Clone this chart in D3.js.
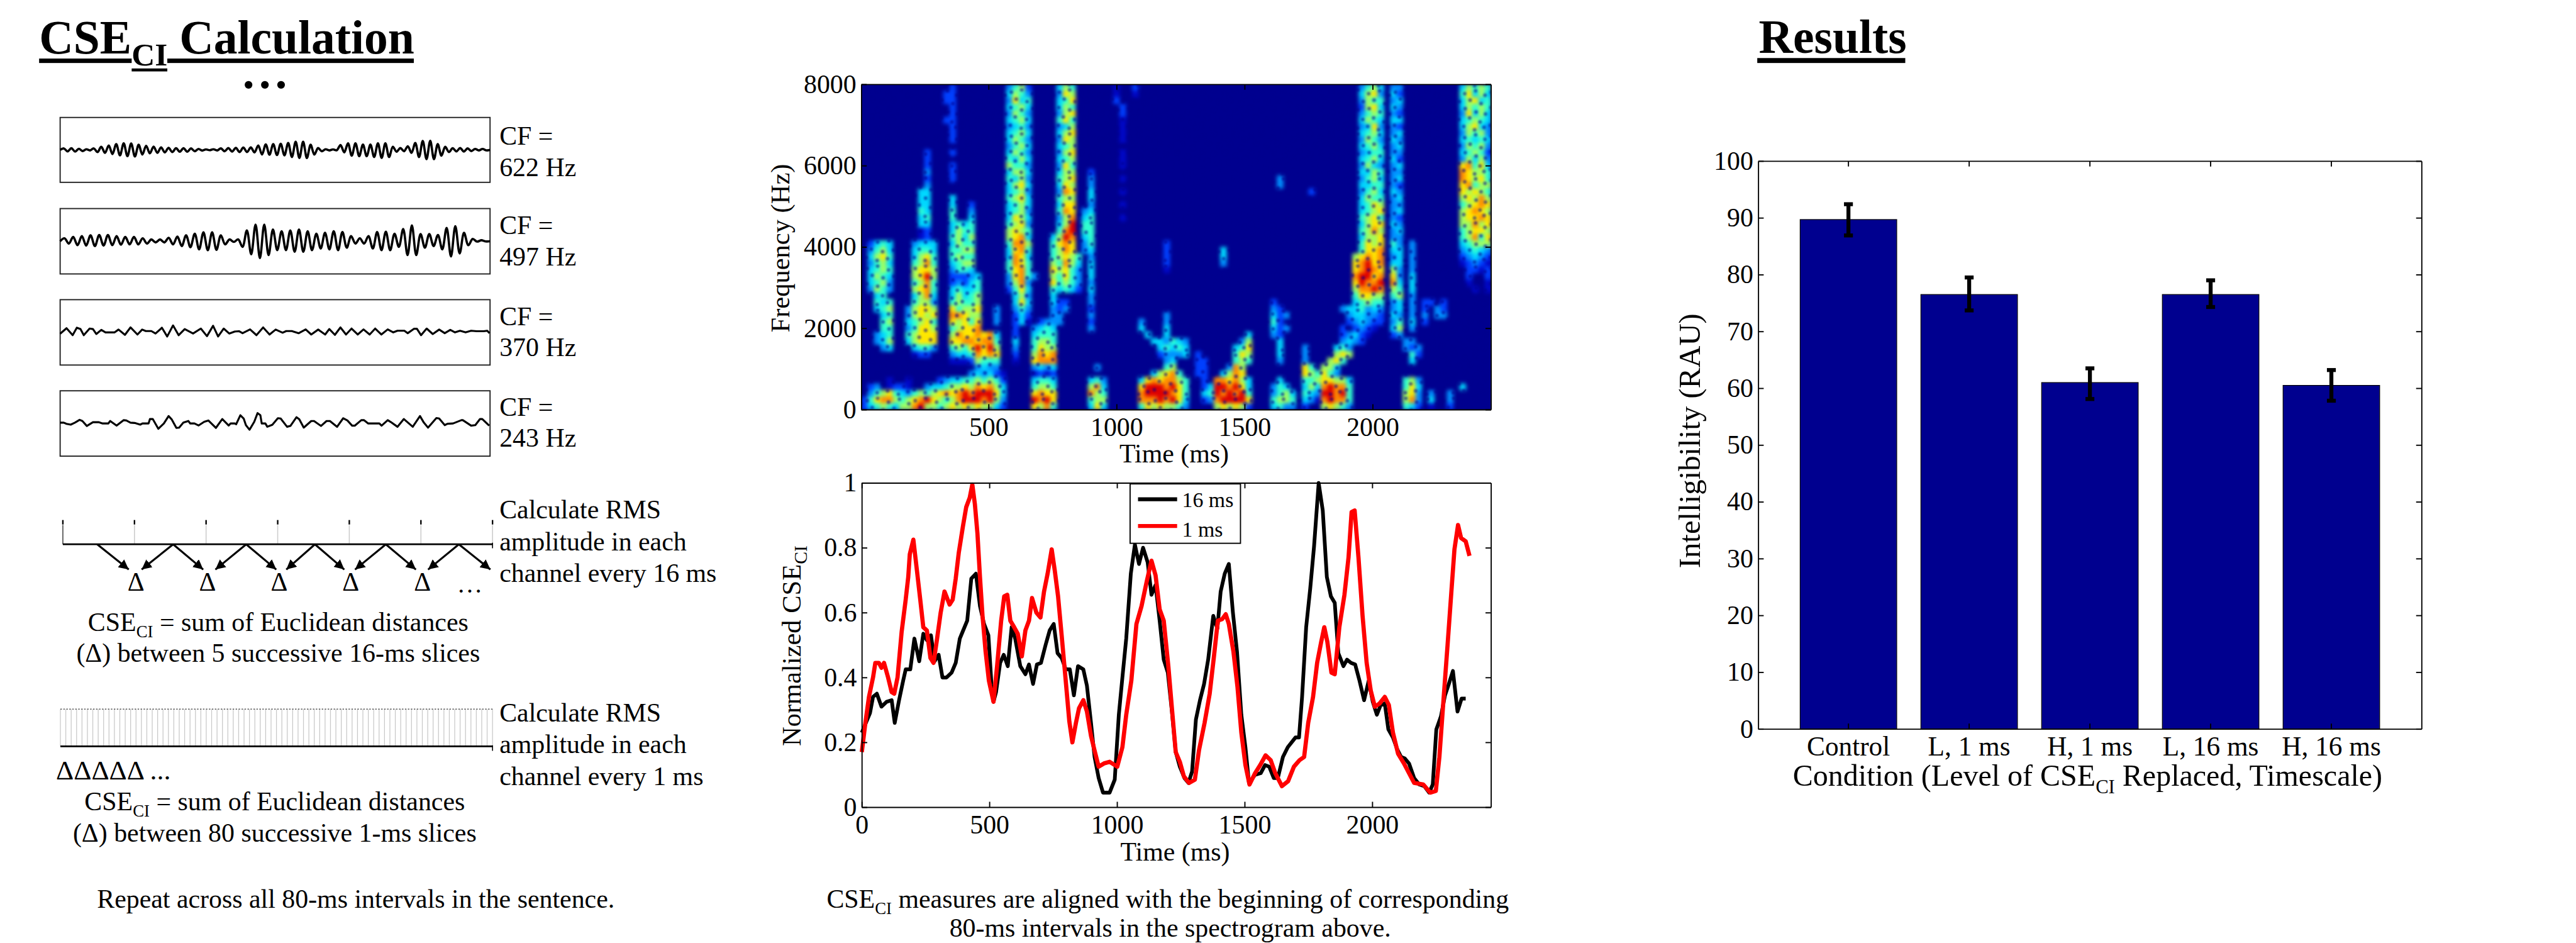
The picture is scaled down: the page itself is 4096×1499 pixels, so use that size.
<!DOCTYPE html>
<html><head><meta charset="utf-8">
<script src="https://cdn.jsdelivr.net/npm/d3@7/dist/d3.min.js"></script>
<style>html,body{margin:0;padding:0;background:#fff;overflow:hidden}svg{display:block}text{font-family:"Liberation Serif",serif;fill:#000}</style>
</head><body><svg id="c"></svg>
<script>
// ---------- data ----------
const barCategories=["Control","L, 1 ms","H, 1 ms","L, 16 ms","H, 16 ms"];
const barValues=[89.7,76.5,61.0,76.5,60.5];
const barErrHigh=[92.4,79.5,63.5,79.0,63.2];
const barErrLow=[86.9,73.7,58.1,74.3,57.8];
const barTicks=[0,10,20,30,40,50,60,70,80,90,100];

const timeTicks=[500,1000,1500,2000];
const freqTicks=[0,2000,4000,6000,8000];
const cseTimeTicks=[0,500,1000,1500,2000];
const cseTicks=[0,0.2,0.4,0.6,0.8,1];

const t16=[0,32,44,59,77,97,117,129,146,162,172,190,206,225,241,255,271,285,301,316,332,352,368,384,413,429,447,463,479,496,508,516,526,542,556,572,587,601,621,641,655,671,686,702,720,736,752,767,783,799,815,831,847,868,882,898,912,928,945,971,991,1007,1021,1036,1054,1070,1086,1102,1120,1135,1151,1167,1183,1199,1215,1230,1246,1264,1280,1294,1309,1325,1341,1357,1377,1393,1406,1422,1438,1454,1470,1487,1503,1517,1541,1563,1580,1596,1614,1630,1650,1669,1699,1713,1725,1741,1757,1772,1790,1806,1822,1838,1853,1867,1887,1901,1917,1933,1950,1968,1986,2002,2018,2033,2049,2063,2081,2097,2113,2128,2144,2164,2184,2204,2223,2237,2251,2269,2285,2300,2316,2334,2350,2366];
const cse16=[.23,.29,.34,.35,.31,.325,.33,.26,.33,.39,.425,.425,.52,.45,.535,.515,.53,.45,.47,.40,.40,.415,.445,.52,.575,.705,.72,.62,.565,.53,.38,.325,.355,.445,.47,.435,.555,.52,.435,.41,.44,.38,.44,.445,.50,.545,.565,.475,.46,.425,.425,.345,.435,.425,.375,.26,.155,.09,.045,.045,.085,.285,.40,.52,.72,.81,.75,.80,.755,.655,.685,.575,.455,.415,.295,.17,.125,.09,.075,.11,.27,.33,.38,.455,.59,.55,.665,.72,.75,.60,.48,.285,.185,.075,.10,.105,.13,.125,.09,.09,.155,.185,.215,.215,.34,.555,.675,.805,1.0,.915,.71,.65,.63,.475,.435,.455,.445,.44,.39,.33,.39,.325,.285,.315,.32,.24,.215,.18,.155,.15,.135,.09,.07,.065,.045,.07,.24,.28,.345,.38,.42,.295,.335,.335];
const t1=[0,14,28,44,53,67,77,87,103,117,127,140,156,172,182,188,202,216,229,241,255,269,281,295,309,324,344,356,368,380,396,409,423,433,443,453,463,473,485,498,516,530,546,558,570,582,597,611,627,641,655,667,684,700,714,728,744,756,769,783,799,813,825,839,851,868,882,898,912,928,949,971,1001,1021,1036,1056,1076,1096,1116,1135,1151,1167,1183,1201,1215,1230,1246,1262,1282,1305,1321,1343,1363,1379,1395,1412,1426,1438,1456,1472,1487,1503,1519,1541,1561,1582,1602,1620,1646,1670,1693,1715,1733,1749,1768,1784,1800,1812,1824,1840,1853,1871,1891,1907,1919,1931,1946,1962,1978,1994,2010,2029,2049,2065,2081,2101,2124,2144,2164,2200,2227,2249,2263,2279,2295,2310,2322,2336,2348,2366,2381];
const cse1=[.17,.26,.34,.40,.445,.445,.43,.445,.40,.355,.35,.40,.54,.64,.71,.78,.825,.73,.64,.555,.545,.46,.445,.52,.60,.665,.625,.64,.705,.785,.865,.925,.955,.995,.935,.845,.71,.59,.48,.39,.325,.435,.575,.65,.655,.575,.555,.535,.465,.545,.575,.645,.60,.585,.665,.72,.795,.73,.65,.53,.39,.265,.20,.26,.305,.33,.295,.22,.175,.125,.135,.14,.125,.185,.285,.39,.565,.62,.695,.76,.715,.61,.575,.435,.305,.17,.14,.095,.075,.085,.175,.26,.35,.46,.575,.58,.595,.565,.48,.37,.23,.13,.07,.105,.13,.16,.145,.105,.065,.08,.125,.145,.155,.26,.34,.445,.51,.555,.51,.415,.41,.555,.655,.77,.91,.915,.77,.59,.445,.36,.31,.32,.34,.315,.23,.165,.135,.105,.075,.07,.045,.05,.155,.33,.50,.665,.795,.87,.83,.82,.775];

const wave622=[0,9,-9,10,-10,7,-7,4,-3,9,-13,19,-18,27,-25,35,-33,40,-38,39,-40,31,-28,25,-21,20,-18,15,-15,12,-13,10,-11,10,-11,9,-8,6,-4,3,-2,4,-3,9,-8,11,-10,12,-13,14,-13,15,-15,27,-28,33,-29,35,-31,37,-33,42,-43,49,-49,49,-49,31,-28,11,-8,4,-3,3,-2,29,-15,40,-35,40,-38,32,-38,32,-43,40,-48,40,-43,19,-11,11,-8,22,-18,42,-43,54,-56,55,-56,35,-35,19,-13,10,-9,11,-10,9,-7,6,-3,6,-3,0];
const wave497=[0,18,-14,26,-24,31,-26,36,-29,38,-26,38,-24,31,-21,26,-19,26,-19,18,-14,11,-7,11,-7,21,-19,28,-29,36,-36,46,-49,54,-54,54,-52,36,-19,11,-4,11,-34,66,-79,101,-102,101,-84,71,-54,61,-54,66,-64,71,-64,61,-54,46,-44,51,-49,61,-54,56,-39,31,-14,18,-14,31,-44,56,-54,58,-54,46,-34,74,-84,96,-84,44,-39,44,-29,38,-49,81,-92,91,-74,51,-24,14,-2,6,-1,0];
const wave370t=[12,35,57,72,85,97,118,130,142,160,175,208,222,245,265,290,307,320,340,355,378,397,418,438,460,490,518,540,562,580,600,620,640,655,668,695,718,742,765,787,812,825,845,870,895,915,940,965,980,1000,1020,1040,1060,1082,1103,1125,1145,1167,1190,1210,1225,1250,1262,1285,1295,1310,1330,1352,1375,1395,1415,1432,1450,1470,1490,1510,1535,1548,1556];
const wave370=[-8,25,-17,28,20,-17,23,20,-10,15,0,0,17,-15,30,-13,17,8,8,-7,28,-25,42,-17,20,-7,23,-23,40,-25,23,-7,5,7,-5,18,-17,30,-13,17,-2,8,8,-5,18,-13,17,-13,20,-15,30,-13,23,-13,18,-13,23,-13,18,0,10,10,-5,22,22,-17,23,-10,17,-5,15,0,10,0,10,7,7,10,-5];
const wave243t=[12,25,35,50,65,82,92,108,130,150,165,185,192,215,240,250,265,280,300,308,330,335,345,365,385,402,413,430,440,455,473,480,495,510,530,545,572,595,618,625,640,645,660,672,680,693,710,722,732,737,750,757,775,795,805,828,840,862,872,888,915,925,950,970,982,1008,1030,1045,1062,1072,1095,1105,1120,1160,1168,1190,1200,1225,1248,1280,1306,1320,1335,1365,1375,1395,1405,1425,1455,1460,1490,1505,1522,1530,1555];
const wave243=[5,5,-2,-7,5,22,15,-15,8,8,0,0,15,-13,20,18,5,3,-7,0,0,27,27,-32,0,45,25,-27,-25,5,15,0,0,-12,10,18,-27,27,-12,0,0,-5,50,30,-10,-38,10,63,50,0,0,-20,-8,32,30,-20,-15,38,25,-25,15,15,-15,15,15,-20,32,18,-13,-13,20,20,0,0,-13,20,10,-20,27,-20,45,5,-25,33,30,-10,-2,0,20,20,-13,-10,27,27,-13];
const centreFreqs=["622 Hz","497 Hz","370 Hz","243 Hz"];

// spectrogram cells, one digit per cell (0 = background .. 9 = peak); top row first, grouped in tens for reading
const spectrogram=[
"0000000000 0000200000 0003562000 0465000000 1002000000 0000000000 0000000000 0000000003 5640330000 0000046565",
"0000000000 0002200000 0004653000 0376000000 1001000000 0000000000 0000000000 0000000004 6730420000 0000057464",
"0000000000 0002200000 0003745000 0457000000 2000000000 0000000000 0000000000 0000000003 6550340000 0000046745",
"0000000000 0000200000 0004564000 0465000000 0200000000 0000000000 0000000000 0000000002 6740430000 0000046565",
"0000000000 0000200000 0003653000 0367000000 0200000000 0000000000 0000000000 0000000003 5650320000 0000037464",
"0000000000 0002200000 0004564000 0575000000 0100000000 0000000000 0000000000 0000000004 6540440000 0000045654",
"0000000000 0000200000 0003453000 0346000000 0100000000 0000000000 0000000000 0000000003 4730320000 0000046743",
"0000000000 0000200000 0004564000 0467000000 0100000000 0000000000 0000000000 0000000004 5640340000 0000036563",
"0000000000 0000200000 0004653000 0376000000 0100000000 0000000000 0000000000 0000000003 6530430000 0000045454",
"0000000000 0000000000 0003564000 0456000000 0000000000 0000000000 0000000000 0000000004 5640340000 0000036563",
"0000000000 2000200000 0004653000 0367000000 0100000000 0000000000 0000000000 0000000003 4550330000 0000045652",
"0000000000 2000000000 0005464000 0456000000 0100000000 0000000000 0000000000 0000000004 5640420000 0000036463",
"0000000000 2000200000 0006553000 0375000000 0100000000 0000000000 0000000000 0000000003 6430340000 0000078574",
"0000000000 3000200000 0004664000 0466002000 0000000000 0000000000 0000000000 0000000004 4650330000 0000087665",
"0000000000 2000200000 0005463000 0567003000 0100000000 0000000000 0000003000 0000000003 5640340000 0000087675",
"0000000000 3000000000 0004674000 0476003000 0000000000 0000000000 0000003000 0000000004 4550320000 0000078566",
"0000000004 4000000000 0004563000 0387004000 0100000000 0000000000 0000000000 0200000003 5640430000 0000076765",
"0000000004 4000400000 0005674000 0566004000 0000000000 0000000000 0000000000 0000000004 6550340000 0000067686",
"0000000004 4000400200 0004564000 0477003000 0100000000 0000000000 0000000000 0000000004 5760330000 0000056787",
"0000000005 4000500300 0004563000 0587034000 0000000000 0000000000 0000000000 0000000004 5670340000 0000067876",
"0000000004 5000500400 0004764000 0368045000 0100000000 0000000000 0000000000 0000000005 6750320000 0000067787",
"0000000004 4000454500 0005673000 0469055000 0000000000 0000000000 0000000000 0000000004 6770430000 0000066867",
"0000000001 2000465500 0006765000 0589055000 0000000000 0000000000 0000000000 0000000005 6860340000 0000056776",
"0000000001 2000564600 0006784000 4698045000 0000000000 0000000000 0000000000 0000000004 6670330000 0000056857",
"0245400034 4400465500 0005886000 5787035000 0000000020 0000000000 0000000000 0000000005 7670530300 0000045666",
"0356400045 5400556600 0004785000 5687034000 0000000020 0000000400 0000000000 0000000005 7780440300 0000034543",
"0467500046 7500565500 0004874000 5676503000 0000000020 0000000400 0000000000 0000000067 8780340300 0000023432",
"0356400056 8500456600 0005875000 6586404000 0000000020 0000000300 0000000000 0000000078 9780440300 0000012321",
"0456500067 7600355400 0005785000 7675304000 0000000010 0000000000 0000000000 0000000078 9870630300 0000002212",
"0465400067 9600222340 0003785300 6575304000 0000000000 0000000000 0000000000 0000000089 9780730400 0000002002",
"0456300056 8500232450 0003683000 7565303000 0000000000 0000000000 0000000000 0000000079 8890840400 0000001001",
"0365300067 8500454450 0002574000 5454204000 0000000000 0000000000 0000000000 0000000068 8980650400 0000000101",
"0045000046 8400464560 0000463000 4000003000 0000000000 0000000000 0000000000 0000000057 7660560300 0000000000",
"0054500056 6300565560 0000474000 4220003000 0000000000 0000000000 0000020000 0000000045 6550340302 2020000000",
"0045600367 7600756670 0300353000 3230002000 0000000000 0000000000 0000032000 0000003445 3430340302 0320000000",
"0004500367 6700887660 0300242000 3300003000 0000000030 0000000000 0000042300 0000000344 3320430303 0330000000",
"0005600456 7500767570 0300241023 3300002000 0000300030 0000000000 0000052000 0000000234 3220350402 0000000000",
"0005500357 7600567780 0000200345 4000003000 0000400040 0000000000 0000042300 0000002023 2100460300 0000000000",
"0034500567 7700687787 8400200455 5000000000 0000040040 0000000000 0400032000 0000002342 1000230000 0000000000",
"0034600467 7700778878 8500400566 5000000000 0000004435 4300000000 3600004000 0000003432 0000003300 0000000000",
"0003400045 5300565797 9600300576 6000000000 0000000454 5400000004 5700004000 3000045300 0000003230 0000000000",
"0000000012 2000344587 8700200687 8000000000 0000000233 3402000005 7600004000 3000067600 0000000520 0000000000",
"0000000000 0000111265 5500100788 8000000000 0000000034 0002200005 6500003000 3000675000 0000000400 0000000000",
"0000000000 0000000034 3300000343 4000000300 0000000056 0002200038 6000000000 7506640000 0000000000 0000000000",
"0000000000 0000000343 4210000121 2000000000 0000004678 5002200468 7000000000 7657530000 0000000000 0000000000",
"0000100100 0023445565 6520000455 4000004530 0000478788 6500208878 6400004000 5567766400 0000005630 0000000000",
"0230122100 3445667687 8640000566 5000006840 0000799989 7500249989 7400035400 4648988500 0000005740 0000040000",
"0356754356 5678789899 9740000787 7000008650 0000899998 7500459898 9500035640 5439989500 0000006730 3003000000",
"2578865678 9765689998 9630000989 7000005660 0000888989 7400238999 9700056650 4318988500 0000006830 4003000000",
"2456546689 6656767676 6420000768 5000004740 0000576766 5300006767 6200045330 2006765300 0000005420 1002000000"
];
const jetLevels=[0,1,2,3,4,5,6,7,8,9];
const jetColours=["#00008f","#0008c8","#0040ff","#0090ff","#00d8ff","#30ffd0","#a0ff60","#ffe800","#ff8c00","#e00000"];

// slice diagram (positions in units of slices)
const sliceCount16=6, sliceCount1=80;
const arrowFrom=[.48,1.54,1.54,2.56,2.56,3.52,3.52,4.51,4.51,5.53,5.53];
const arrowTo=[.92,1.1,1.96,2.13,2.98,3.12,3.93,4.08,4.93,5.1,5.97];
const deltaSlices=[1,2,3,4,5];

// ---------- helpers ----------
const svg=d3.select("#c").attr("width",4096).attr("height",1499).attr("viewBox","0 0 5204 1904");
const root=svg.append("g");
const FS=53.2;
function txt(x,y,parts,o={}){
  const t=root.append("text").attr("font-size",o.size||FS).attr("font-weight",o.weight||null)
    .attr("text-anchor",o.anchor||"start");
  if(o.rotate) t.attr("transform",`translate(${x},${y}) rotate(${o.rotate})`);
  else t.attr("x",x).attr("y",y);
  const size=o.size||FS;
  (Array.isArray(parts)?parts:[parts]).forEach(p=>{
    if(typeof p==="string") t.append("tspan").text(p);
    else{
      t.append("tspan").attr("font-size",size*(o.subRatio||.64)).attr("dy",size*.25).text(p.sub);
      t.append("tspan").attr("dy",-size*.25).text(p.after);
    }
  });
  return t;
}
function frame(g,x,y,xt,yt,h,w,xSize){
  const tick=11;
  const ax=d3.axisBottom(x).tickValues(xt).tickSizeInner(-tick).tickSizeOuter(0).tickFormat(d=>String(d));
  const ay=d3.axisLeft(y).tickValues(yt).tickSizeInner(-tick).tickSizeOuter(0).tickFormat(d=>String(d));
  const bx=g.append("g").attr("transform",`translate(0,${y.range()[0]})`).call(ax);
  const by=g.append("g").attr("transform",`translate(${x.range()[0]},0)`).call(ay);
  const tx=g.append("g").attr("transform",`translate(0,${y.range()[1]})`).call(d3.axisTop(x).tickValues(xt).tickSizeInner(-tick).tickSizeOuter(0).tickFormat(""));
  const ry=g.append("g").attr("transform",`translate(${x.range()[1]},0)`).call(d3.axisRight(y).tickValues(yt).tickSizeInner(-tick).tickSizeOuter(0).tickFormat(""));
  [bx,by,tx,ry].forEach(a=>{a.selectAll("path,line").attr("stroke","#000").attr("stroke-width",2.4);a.attr("font-family",null).attr("font-size",null)});
  bx.selectAll("text").attr("font-size",xSize||FS).attr("fill","#000").attr("y",h).attr("dy",0);
  by.selectAll("text").attr("font-size",FS).attr("fill","#000").attr("x",-w).attr("dy",17);
}

// ---------- left panel ----------
txt(79,108,["CSE",{sub:"CI",after:" Calculation"}],{size:96,weight:"bold",subRatio:.68});
[[79,118,187,9],[338,118,498,9],[266,138,72,6],[3550,117,299,10]].forEach(r=>root.append("rect").attr("x",r[0]).attr("y",r[1]).attr("width",r[2]).attr("height",r[3]).attr("fill","#000"));
txt(490,178,"...",{size:96,weight:"bold"}).attr("letter-spacing",9);

const boxes=[
 {top:237,bot:368,vals:wave622,base:292,sw:4.6},
 {top:421,bot:553,vals:wave497,base:473,sw:4.6},
 {top:605,bot:737,vals:wave370,t:wave370t,base:656,sw:4},
 {top:789,bot:921,vals:wave243,t:wave243t,base:839,sw:4}];
const boxL=121.5,boxR=990;
boxes.forEach((b,i)=>{
  root.append("rect").attr("x",boxL).attr("y",b.top).attr("width",boxR-boxL).attr("height",b.bot-b.top).attr("fill","#fff").attr("stroke","#222").attr("stroke-width",2.4);
  const mid=(b.top+b.bot)/2;
  const y=d3.scaleLinear().domain([-198,198]).range([mid+66,mid-66]);
  const x=b.t?d3.scaleLinear().domain([12,1558]).range([boxL,boxR]):d3.scaleLinear().domain([0,b.vals.length-1]).range([boxL,boxR]);
  const line=d3.line().x((d,j)=>x(b.t?b.t[j]:j)).y(d=>y(d)).curve(b.t?d3.curveLinear:d3.curveCatmullRom);
  root.append("path").attr("d",line(b.vals)).attr("fill","none").attr("stroke","#000").attr("stroke-width",b.sw).attr("stroke-linejoin","round");
  txt(1009,b.base,"CF =");
  txt(1009,b.base+63,centreFreqs[i]);
});

// 16-ms slices
const s16=d3.scaleLinear().domain([0,sliceCount16]).range([127,995]);
const axis16Y=1099;
root.selectAll(null).data(d3.range(0,sliceCount16+1)).enter().append("line").attr("x1",d=>s16(d)).attr("x2",d=>s16(d)).attr("y1",1060).attr("y2",axis16Y).attr("stroke",(d,i)=>i==0?"#444":"#ccc").attr("stroke-width",2);
root.selectAll(null).data(d3.range(0,sliceCount16+1)).enter().append("line").attr("x1",d=>s16(d)).attr("x2",d=>s16(d)).attr("y1",1050).attr("y2",1059).attr("stroke","#000").attr("stroke-width",3);
root.append("line").attr("x1",s16(0)).attr("x2",s16(6)).attr("y1",axis16Y).attr("y2",axis16Y).attr("stroke","#000").attr("stroke-width",3.5);
root.append("line").attr("x1",s16(6)).attr("x2",s16(6)).attr("y1",1096).attr("y2",1107).attr("stroke","#000").attr("stroke-width",2);
const defs=svg.append("defs");
defs.append("marker").attr("id","ah").attr("markerUnits","userSpaceOnUse").attr("markerWidth",26).attr("markerHeight",26).attr("refX",20).attr("refY",10).attr("orient","auto")
  .append("path").attr("d","M0,0L20,10L0,20Z").attr("fill","#000");
arrowFrom.forEach((f,i)=>{
  root.append("line").attr("x1",s16(f)).attr("y1",axis16Y).attr("x2",s16(arrowTo[i])).attr("y2",1150).attr("stroke","#000").attr("stroke-width",4).attr("marker-end","url(#ah)");
});
deltaSlices.forEach(d=>txt(s16(d)+3,1193,"Δ",{anchor:"middle"}));
txt(923,1196,"…",{size:52});
txt(1009,1047,"Calculate RMS");txt(1009,1111,"amplitude in each");txt(1009,1175,"channel every 16 ms");
txt(562,1274,["CSE",{sub:"CI",after:" = sum of Euclidean distances"}],{anchor:"middle"});
txt(562,1336,"(Δ) between 5 successive 16-ms slices",{anchor:"middle"});

// 1-ms slices
const s1=d3.scaleLinear().domain([0,sliceCount1]).range([122,995]);
root.selectAll(null).data(d3.range(0,sliceCount1+1)).enter().append("line").attr("x1",d=>s1(d)).attr("x2",d=>s1(d)).attr("y1",1432).attr("y2",1507).attr("stroke","#c8c8c8").attr("stroke-width",1.6);
root.append("line").attr("x1",122).attr("x2",995).attr("y1",1432).attr("y2",1432).attr("stroke","#555").attr("stroke-width",2).attr("stroke-dasharray","3 3");
root.append("line").attr("x1",122).attr("x2",995).attr("y1",1507).attr("y2",1507).attr("stroke","#000").attr("stroke-width",3.5);
root.append("line").attr("x1",995).attr("x2",995).attr("y1",1505).attr("y2",1516).attr("stroke","#000").attr("stroke-width",2);
txt(1009,1457,"Calculate RMS");txt(1009,1521,"amplitude in each");txt(1009,1585,"channel every 1 ms");
txt(113,1574,"ΔΔΔΔΔ ...").attr("textLength",232).attr("lengthAdjust","spacingAndGlyphs");
txt(555,1636,["CSE",{sub:"CI",after:" = sum of Euclidean distances"}],{anchor:"middle"});
txt(555,1700,"(Δ) between 80 successive 1-ms slices",{anchor:"middle"});
txt(196,1833,"Repeat across all 80-ms intervals in the sentence.");

// ---------- spectrogram ----------
const spL=1740,spR=3012,spT=170,spB=827;
const specX=d3.scaleLinear().domain([3,2462]).range([spL,spR]);
const specY=d3.scaleLinear().domain([0,8000]).range([spB,spT]);
const jet=d3.scaleLinear().domain(jetLevels).range(jetColours);
const rows=spectrogram.map(r=>r.replace(/ /g,""));
const colBand=d3.scaleBand().domain(d3.range(100)).range([spL,spR]);
const rowBand=d3.scaleBand().domain(d3.range(rows.length)).range([spT,spB]);
const clip=defs.append("clipPath").attr("id","spc");clip.append("rect").attr("x",spL).attr("y",spT).attr("width",spR-spL).attr("height",spB-spT);
function blurFilter(id,sd){
  defs.append("filter").attr("id",id).attr("filterUnits","userSpaceOnUse").attr("x",spL-30).attr("y",spT-30).attr("width",spR-spL+60).attr("height",spB-spT+60).attr("color-interpolation-filters","sRGB")
    .append("feGaussianBlur").attr("stdDeviation",sd);
}
blurFilter("bl",4.2);blurFilter("bd",2.2);
// speckle texture: soft holes like the ones in the reference's speech bands
const speckle=defs.append("pattern").attr("id","sp").attr("patternUnits","userSpaceOnUse").attr("width",97).attr("height",89);
[[6,8],[27,3],[49,11],[71,5],[90,14],[16,22],[38,27],[60,24],[82,31],[5,39],[27,44],[50,41],[72,48],[91,52],[14,58],[37,63],[59,60],[80,68],[4,75],[26,81],[47,77],[69,84],[88,79]].forEach(p=>speckle.append("circle").attr("cx",p[0]).attr("cy",p[1]).attr("r",3.8).attr("fill","#00008f"));
const spG=root.append("g");
const holder=spG.append("g").attr("clip-path","url(#spc)");
holder.append("rect").attr("x",spL).attr("y",spT).attr("width",spR-spL).attr("height",spB-spT).attr("fill","#00008f");
const cells=holder.append("g").attr("filter","url(#bl)");
const cellData=[];
rows.forEach((r,ri)=>{for(let c=0;c<r.length;c++){const v=+r[c];if(v>0)cellData.push({r:ri,c,v});}});
cells.selectAll("rect").data(cellData).enter().append("rect")
  .attr("x",d=>colBand(d.c)).attr("y",d=>rowBand(d.r)).attr("width",colBand.bandwidth()+.5).attr("height",rowBand.bandwidth()+.5).attr("fill",d=>jet(d.v));
holder.append("rect").attr("x",spL).attr("y",spT).attr("width",spR-spL).attr("height",spB-spT).attr("fill","url(#sp)").attr("opacity",.55).attr("filter","url(#bd)");
frame(spG,specX,specY,timeTicks,freqTicks,53,10);
txt(2372,933,"Time (ms)",{anchor:"middle"});
txt(1594,501,"Frequency (Hz)",{anchor:"middle",rotate:-90,size:54});

// ---------- CSE lines ----------
const lnG=root.append("g");
const lnX=d3.scaleLinear().domain([0,2465]).range([1741,3012]);
const lnY=d3.scaleLinear().domain([0,1]).range([1630,975]);
const line=d3.line().x(d=>lnX(d[0])).y(d=>lnY(d[1]));
lnG.append("path").attr("d",line(d3.zip(t16,cse16))).attr("fill","none").attr("stroke","#000").attr("stroke-width",7.5).attr("stroke-linejoin","round");
lnG.append("path").attr("d",line(d3.zip(t1,cse1))).attr("fill","none").attr("stroke","#f00").attr("stroke-width",8.5).attr("stroke-linejoin","round");
frame(lnG,lnX,lnY,cseTimeTicks,cseTicks,53,10);
lnG.append("rect").attr("x",2283).attr("y",977).attr("width",223).attr("height",120).attr("fill","#fff").attr("stroke","#000").attr("stroke-width",2.4);
lnG.append("line").attr("x1",2299).attr("x2",2378).attr("y1",1008).attr("y2",1008).attr("stroke","#000").attr("stroke-width",8);
lnG.append("line").attr("x1",2299).attr("x2",2378).attr("y1",1062).attr("y2",1062).attr("stroke","#f00").attr("stroke-width",8);
txt(2388,1024,"16 ms",{size:43});
txt(2388,1083,"1 ms",{size:43});
txt(2374,1738,"Time (ms)",{anchor:"middle"});
txt(1617,1304,["Normalized CSE",{sub:"CI",after:""}],{anchor:"middle",rotate:-90,size:54,subRatio:.7});
txt(1670,1833,["CSE",{sub:"CI",after:" measures are aligned with the beginning of corresponding"}]);
txt(1918,1892,"80-ms intervals in the spectrogram above.");

// ---------- results ----------
txt(3553,107,"Results",{size:96,weight:"bold"});
const brG=root.append("g");
const brX=d3.scaleBand().domain(barCategories).range([3552,4892]).paddingInner(.2).paddingOuter(.347);
const brY=d3.scaleLinear().domain([0,100]).range([1472,325]);
brG.selectAll("rect").data(barCategories).enter().append("rect")
  .attr("x",d=>brX(d)).attr("width",brX.bandwidth()).attr("y",(d,i)=>brY(barValues[i])).attr("height",(d,i)=>brY(0)-brY(barValues[i]))
  .attr("fill","#00008f").attr("stroke","#000").attr("stroke-width",1.5);
const errG=brG.append("g").attr("stroke","#000");
barCategories.forEach((c,i)=>{
  const cx=brX(c)+brX.bandwidth()/2;
  errG.append("line").attr("x1",cx).attr("x2",cx).attr("y1",brY(barErrHigh[i])).attr("y2",brY(barErrLow[i])).attr("stroke-width",8);
  [barErrHigh[i],barErrLow[i]].forEach(v=>errG.append("line").attr("x1",cx-9).attr("x2",cx+9).attr("y1",brY(v)).attr("y2",brY(v)).attr("stroke-width",8));
});
frame(brG,brX,brY,barCategories,barTicks,54,10,55);
txt(3434,890,"Intelligibility (RAU)",{anchor:"middle",rotate:-90,size:62});
txt(3622,1587,["Condition (Level of CSE",{sub:"CI",after:" Replaced, Timescale)"}],{size:61});
</script></body></html>
